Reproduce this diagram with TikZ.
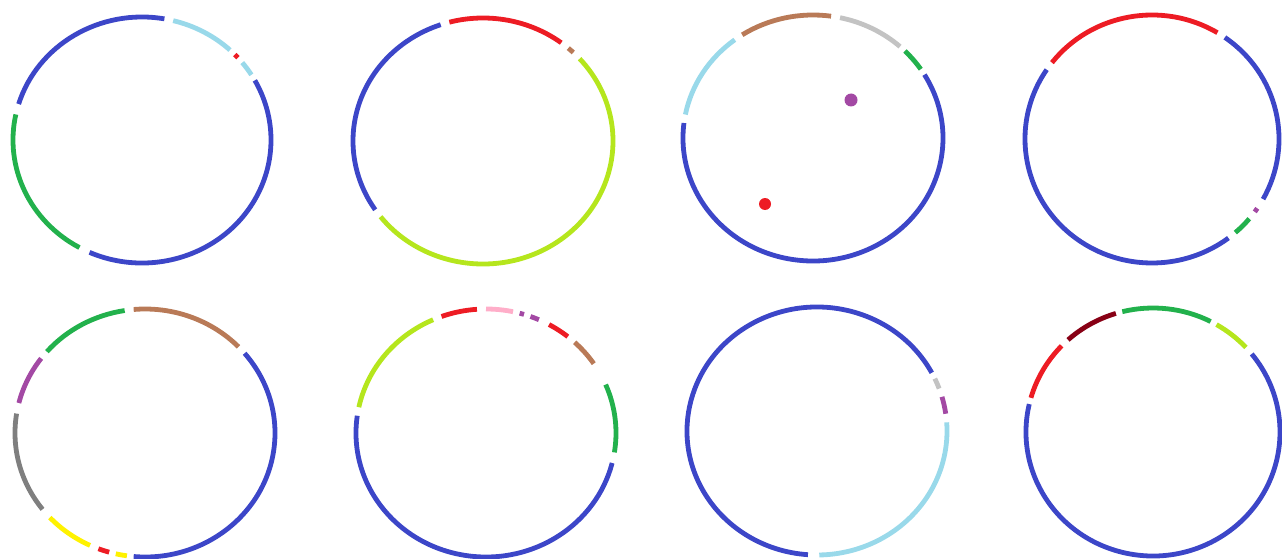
\documentclass[tikz,border=0pt]{standalone}
\usepackage{tikz}
\definecolor{ringblue}{HTML}{3C46C8}
\definecolor{skyc}{HTML}{99D9EA}
\definecolor{redc}{HTML}{ED1C24}
\definecolor{greenc}{HTML}{22B14C}
\definecolor{limec}{HTML}{B5E61D}
\definecolor{brownc}{HTML}{B97A57}
\definecolor{silverc}{HTML}{C3C3C3}
\definecolor{grayc}{HTML}{7F7F7F}
\definecolor{purplec}{HTML}{A349A4}
\definecolor{yellowc}{HTML}{FFF200}
\definecolor{pinkc}{HTML}{FFAEC9}
\definecolor{maroonc}{HTML}{880015}

\begin{document}
\begin{tikzpicture}[x=1pt,y=1pt,seg/.style={line width=4.8pt}]
        \useasboundingbox (0,0) rectangle (1282,558);
        % top row
        \foreach \s/\e/\c in {80/163/ringblue,47/76/skyc,42/44/redc,32/39/skyc,-114/29/ringblue,168/241/greenc}{\draw[seg,\c] (142,418) ++(\s:129 and 123) arc[start angle=\s,end angle=\e,x radius=129,y radius=123];}
        \foreach \s/\e/\c in {109/214/ringblue,53/105/redc,46/49/brownc,-142/42/limec}{\draw[seg,\c] (483,417) ++(\s:130 and 123) arc[start angle=\s,end angle=\e,x radius=130,y radius=123];}
        \foreach \s/\e/\c in {173/391/ringblue,127/169/skyc,82/123/brownc,48/78/silverc,34/45/greenc}{\draw[seg,\c] (813,420) ++(\s:130 and 123) arc[start angle=\s,end angle=\e,x radius=130,y radius=123];}
        \fill[purplec] (851,458) circle[radius=6.5];
        \fill[redc] (765,354) circle[radius=6];
        \foreach \s/\e/\c in {59/142/redc,-29/55/ringblue,-36/-34/purplec,-49/-40/greenc,146/307/ringblue}{\draw[seg,\c] (1152,419) ++(\s:127 and 124) arc[start angle=\s,end angle=\e,x radius=127,y radius=124];}
        % bottom row
        \foreach \s/\e/\c in {44/95/brownc,-95/40/ringblue,257/262/yellowc,249/254/redc,223/245/yellowc,171/218/grayc,143/166/purplec,99/139/greenc}{\draw[seg,\c] (145,125) ++(\s:130 and 124) arc[start angle=\s,end angle=\e,x radius=130,y radius=124];}
        \foreach \s/\e/\c in {114/168/limec,94/110/redc,78/90/pinkc,73/75/purplec,66/70/purplec,51/61/redc,34/47/brownc,-9/23/greenc,172/346/ringblue}{\draw[seg,\c] (486,125) ++(\s:130 and 124) arc[start angle=\s,end angle=\e,x radius=130,y radius=124];}
        \foreach \s/\e/\c in {28/266/ringblue,271/364/skyc,8/16/purplec,20/25/silverc}{\draw[seg,\c] (817,127) ++(\s:130 and 124) arc[start angle=\s,end angle=\e,x radius=130,y radius=124];}
        \foreach \s/\e/\c in {167/399/ringblue,136/164/redc,107/132/maroonc,63/104/greenc,43/60/limec}{\draw[seg,\c] (1153,126) ++(\s:127 and 124) arc[start angle=\s,end angle=\e,x radius=127,y radius=124];}
      \end{tikzpicture}
\end{document}
